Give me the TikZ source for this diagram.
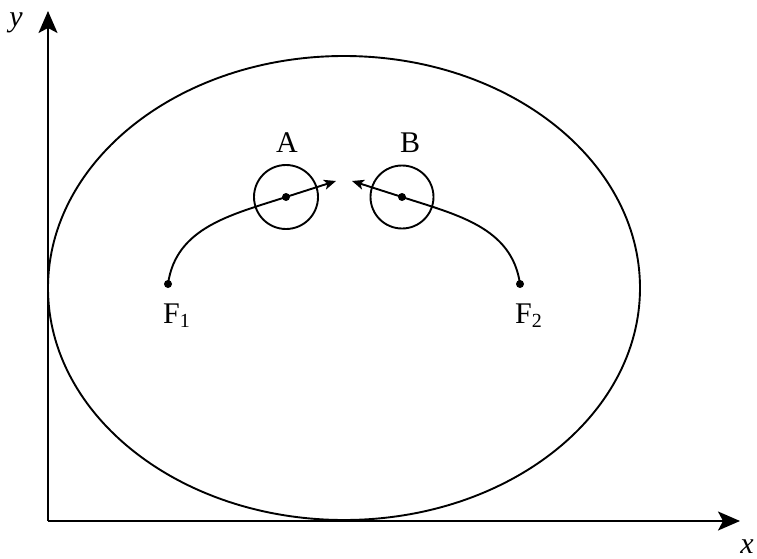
\documentclass[tikz,border=0pt]{standalone}
\usepackage{fontspec}
\setmainfont{Liberation Serif}
\usetikzlibrary{arrows.meta,shapes.geometric}
\newcommand{\lowsub}[1]{\raisebox{-4pt}{\fontsize{20}{20}\selectfont #1}}
\begin{document}
\begin{tikzpicture}[x=1pt,y=-1pt,
  line/.style={line width=1.9pt},
  axisarrow/.style={line, -{Stealth[length=22pt,width=19pt,inset=5pt]}},
  curvearrow/.style={line, -{Stealth[length=12pt,width=10pt,inset=3pt]}},
  dotnode/.style={circle,fill=black,inner sep=0pt,minimum size=8pt},
  lbl/.style={font=\fontsize{30}{30}\selectfont, inner sep=0pt}]
\useasboundingbox (0,0) rectangle (757,559);
\coordinate (O) at (48,521);
\coordinate (Ytip) at (48,11);
\coordinate (Xtip) at (740,521);
\draw[axisarrow] (O) -- (Ytip);
\draw[axisarrow] (O) -- (Xtip);
\node[lbl, anchor=base] (ylab) at (16,27) {\itshape y};
\node[lbl, anchor=base] (xlab) at (747,553) {\itshape x};
\node[draw, line, ellipse, minimum width=592pt, minimum height=464pt, inner sep=0pt] (ell) at (344,288) {};
\node[draw, line, circle, minimum size=64pt, inner sep=0pt] (cA) at (286,197) {};
\node[draw, line, circle, minimum size=63pt, inner sep=0pt] (cB) at (402,197) {};
\node[dotnode] (A) at (286,197) {};
\node[dotnode] (B) at (402,197) {};
\node[dotnode] (F1) at (168,284) {};
\node[dotnode] (F2) at (520,284) {};
\node[lbl, anchor=base] (Alab) at (287,152) {A};
\node[lbl, anchor=base] (Blab) at (410,152) {B};
\node[lbl, anchor=base west] (F1lab) at (163,323) {F\lowsub{1}};
\node[lbl, anchor=base west] (F2lab) at (515,323) {F\lowsub{2}};
\coordinate (tipA) at (336,181);
\coordinate (tipB) at (352,181);
\draw[curvearrow] (F1.center) to[out=82,in=198] (A.center) -- (tipA);
\draw[curvearrow] (F2.center) to[out=98,in=-18] (B.center) -- (tipB);
\end{tikzpicture}
\end{document}
